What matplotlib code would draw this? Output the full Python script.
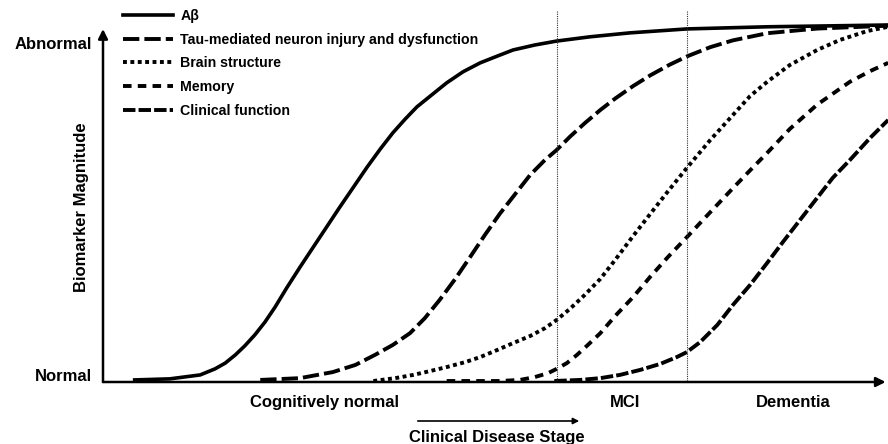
import matplotlib
matplotlib.use('Agg')
import matplotlib.pyplot as plt
from matplotlib.patches import FancyArrowPatch

plt.rcParams['font.family'] = ['Liberation Sans', 'DejaVu Sans']
plt.rcParams['font.weight'] = 'bold'

# curves (x: disease stage 0-100, y: magnitude 0-100)
ab_x = [3.8, 8.3, 12.2, 14.1, 15.4, 16.7, 17.9, 19.2, 20.5, 21.8, 23.3, 25.0, 26.7, 30.1, 33.6,
        35.3, 36.9, 38.5, 40.0, 41.7, 43.8, 45.9, 48.1, 50.3, 52.3, 55.1, 57.9, 62.2, 67.3,
        74.6, 84.9, 100.4]
ab_y = [0.3, 0.6, 1.7, 3.4, 5.0, 7.3, 9.8, 12.9, 16.5, 20.7, 26.1, 31.9, 37.5, 48.7, 59.9,
        65.0, 69.5, 73.4, 76.8, 79.8, 83.5, 86.6, 89.1, 91.0, 92.7, 94.1, 95.2, 96.4, 97.5,
        98.6, 99.2, 99.7]

tau_x = [19.9, 25.0, 29.2, 32.1, 34.6, 36.9, 39.1, 41.0, 42.9, 44.9, 46.8, 48.7, 50.6, 52.6,
         54.5, 56.4, 57.9, 59.6, 61.5, 63.5, 65.4, 67.7, 69.9, 72.4, 74.6, 77.6, 80.5, 84.9,
         91.3, 100.4]
tau_y = [0.3, 0.8, 2.5, 4.5, 7.3, 10.1, 13.4, 17.6, 22.7, 28.6, 34.7, 40.9, 46.8, 52.4,
         57.7, 61.9, 64.7, 68.4, 72.2, 75.9, 79.1, 82.6, 85.6, 88.6, 90.9, 93.5, 95.4, 97.4,
         98.7, 99.5]

brain_x = [34.4, 37.2, 39.5, 41.7, 43.8, 46.2, 48.1, 50.3, 52.3, 54.5, 56.4, 57.9, 59.6, 61.5,
           63.5, 65.4, 67.7, 69.9, 72.2, 74.6, 77.6, 80.5, 82.7, 84.9, 87.8, 91.3, 94.2, 97.7,
           100.4]
brain_y = [0.0, 0.8, 1.7, 2.8, 3.9, 5.3, 6.7, 8.7, 10.6, 12.6, 14.8, 17.1, 20.2, 24.1,
           28.6, 33.9, 40.6, 46.8, 53.2, 59.7, 67.5, 74.5, 79.8, 83.8, 88.5, 92.7, 95.5, 98.0,
           99.2]

mem_x = [43.8, 50.6, 53.2, 55.1, 56.8, 57.9, 59.2, 60.5, 61.9, 63.5, 65.4, 67.7, 69.9, 72.2,
         74.6, 77.6, 80.5, 82.7, 84.9, 87.8, 91.3, 95.5, 98.1, 100.4]
mem_y = [0.0, 0.0, 0.3, 1.1, 2.2, 3.4, 5.0, 7.3, 10.1, 13.4, 18.2, 23.5, 29.2, 34.8,
         40.3, 47.3, 54.0, 59.0, 63.9, 70.6, 77.4, 83.8, 86.8, 89.1]

clin_x = [57.6, 60.9, 63.5, 66.0, 68.6, 71.2, 73.3, 74.6, 76.3, 78.5, 80.5, 82.7, 84.9, 86.9,
          89.1, 91.3, 93.3, 95.5, 98.1, 100.4]
clin_y = [0.0, 0.3, 0.8, 1.7, 3.1, 4.8, 6.7, 8.1, 10.9, 15.7, 21.3, 26.9, 33.1, 38.9,
          45.1, 51.3, 56.9, 61.9, 68.1, 73.1]

stage_lines = [57.9, 74.6]
stage_labels = ['Cognitively normal', 'MCI', 'Dementia']

fig = plt.figure(figsize=(8.88, 4.44), dpi=100)
W, H = 888.0, 444.0
ax = fig.add_axes([103 / W, (H - 382) / H, (W - 103) / W, (382 - 20) / H])
ax.set_xlim(-0.26, 100.38)
ax.set_ylim(-0.28, 101.1)
ax.axis('off')

lw = 2.8
ax.plot(ab_x, ab_y, color='black', lw=2.6, solid_joinstyle='round', label='A\u03b2')
ax.plot(tau_x, tau_y, color='black', lw=lw, dashes=(4.2, 1.3), label='Tau-mediated neuron injury and dysfunction')
ax.plot(brain_x, brain_y, color='black', lw=lw, dashes=(1.0, 0.9), label='Brain structure')
ax.plot(mem_x, mem_y, color='black', lw=lw, dashes=(2.2, 1.6), label='Memory')
ax.plot(clin_x, clin_y, color='black', lw=lw, dashes=(3.2, 0.8), label='Clinical function')

for xv in stage_lines:
    ax.plot([xv, xv], [0, 103.9], color='#333333', lw=0.8, ls=(0, (1, 1)), clip_on=False)

# axis arrows
ax.annotate('', xy=(0, 0.975), xytext=(0, 0), xycoords='axes fraction',
            arrowprops=dict(arrowstyle='-|>', lw=1.8, color='black', mutation_scale=14, shrinkA=0, shrinkB=0))
ax.annotate('', xy=(0.997, 0), xytext=(0, 0), xycoords='axes fraction',
            arrowprops=dict(arrowstyle='-|>', lw=1.8, color='black', mutation_scale=14, shrinkA=0, shrinkB=0))

# stage arrow
fig.patches.append(FancyArrowPatch((415 / W, 1 - 421 / H), (582 / W, 1 - 421 / H),
                                   transform=fig.transFigure, arrowstyle='-|>',
                                   mutation_scale=9, lw=1.2, color='black'))

fs = 12
fig.text(92 / W, 1 - 44.5 / H, 'Abnormal', ha='right', va='center', fontsize=fs)
fig.text(92 / W, 1 - 376.5 / H, 'Normal', ha='right', va='center', fontsize=fs)
fig.text(81 / W, 1 - 207 / H, 'Biomarker Magnitude', ha='center', va='center', rotation=90, fontsize=fs)
for xp, lab in zip([325, 625, 793], stage_labels):
    fig.text(xp / W, 1 - 402 / H, lab, ha='center', va='center', fontsize=fs)
fig.text(497 / W, 1 - 437 / H, 'Clinical Disease Stage', ha='center', va='center', fontsize=fs)

ax.legend(loc='upper left', bbox_to_anchor=(123 / W, 1 - 9 / H), bbox_transform=fig.transFigure,
          frameon=False, fontsize=10.2, handlelength=3.5, handletextpad=0.55, labelspacing=0.68,
          borderpad=0, borderaxespad=0)

fig.savefig('out.png', dpi=100)
